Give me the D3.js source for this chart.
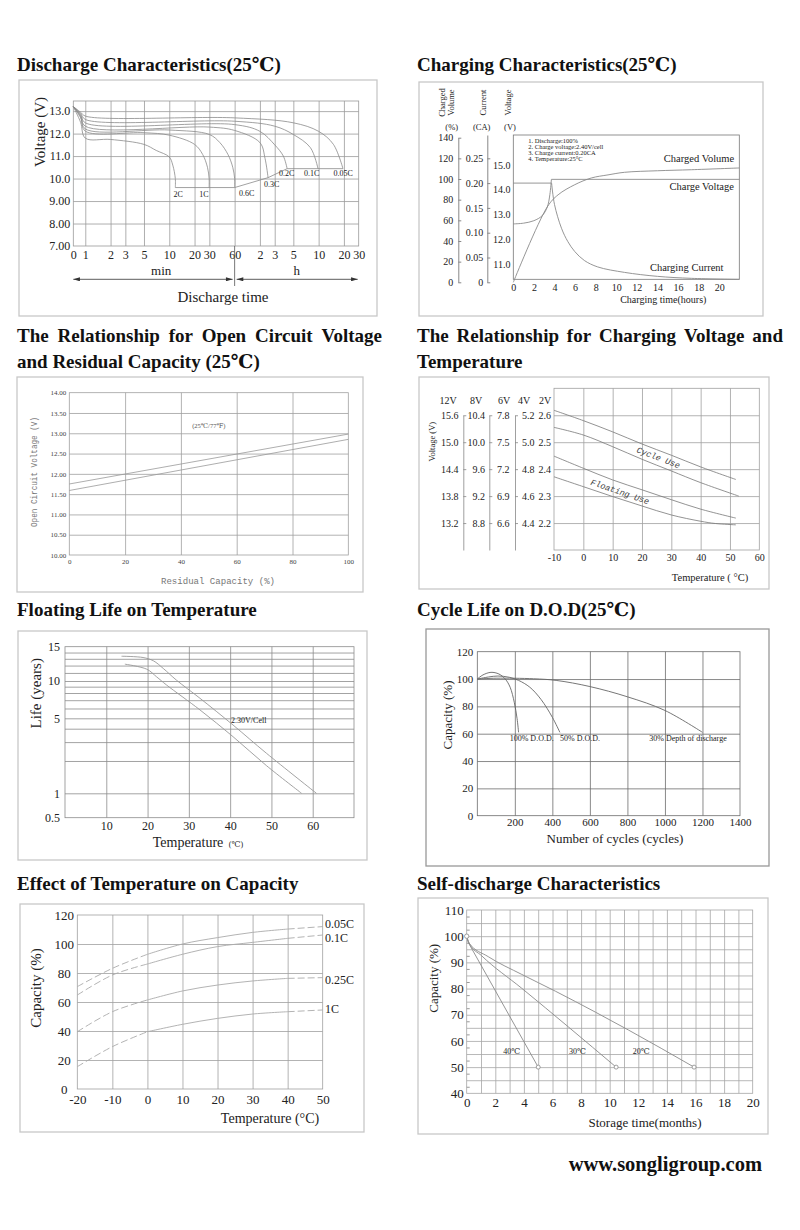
<!DOCTYPE html>
<html>
<head>
<meta charset="utf-8">
<script src="https://cdn.jsdelivr.net/npm/d3@7"></script>
<style>
body { margin: 0; background: #fff; }
</style>
</head>
<body>
<div id="canvas"></div>
<script>
"use strict"

/* ---------- data: discharge characteristics (minutes, volts) ---------- */
let dischargeRates = ["2C", "1C", "0.6C", "0.3C", "0.2C", "0.1C", "0.05C"];
let dischargeCurves = [
    [[0.72, 13.2], [0.88, 12.5], [1, 11.8], [2, 11.74], [5, 11.52], [7, 11.25], [10, 10.96], [11, 10.6], [11.8, 10.0], [11.8, 9.6]],
    [[0.72, 13.2], [0.88, 12.7], [1, 12.11], [5, 12.04], [10, 11.93], [20, 11.52], [25, 11.07], [28.5, 10.5], [29.8, 10.0], [29.8, 9.6]],
    [[0.72, 13.2], [0.88, 12.75], [1, 12.21], [10, 12.16], [30, 11.96], [40, 11.6], [50, 11.07], [57, 10.5], [60, 10.0], [60, 9.6]],
    [[0.72, 13.2], [0.88, 12.8], [1, 12.33], [30, 12.29], [60, 12.14], [120, 11.6], [138, 10.9], [150, 10.04]],
    [[0.72, 13.2], [0.88, 12.85], [1, 12.48], [60, 12.4], [120, 12.1], [180, 11.5], [228, 11.0], [253, 10.44]],
    [[0.72, 13.2], [0.88, 12.9], [1, 12.63], [60, 12.55], [180, 12.33], [300, 11.96], [480, 11.37], [590, 10.44]],
    [[0.72, 13.2], [0.88, 12.95], [1, 12.78], [60, 12.7], [300, 12.48], [600, 12.1], [900, 11.52], [1170, 10.44]]
];
let dischargeCutoff = [[11.8, 9.6], [60, 9.6], [150, 10.04], [253, 10.44], [1170, 10.44]];
let dischargeLabelAt = [[12.8, 9.32], [25.9, 9.32], [83.6, 9.35], [166, 9.76], [250, 10.24], [496, 10.24], [1180, 10.24]];
let dischargeTickMin = [0.72, 1, 2, 3, 5, 10, 20, 30, 60, 120, 180, 300, 600, 1200, 1800];
let dischargeTickText = ["0", "1", "2", "3", "5", "10", "20", "30", "60", "2", "3", "5", "10", "20", "30"];
let dischargeVoltTicks = [7, 8, 9, 10, 11, 12, 13];
let dischargeVoltText = ["7.00", "8.00", "9.00", "10.0", "11.0", "12.0", "13.0"];

/* ---------- data: charging characteristics (hours) ---------- */
let chargeHours = [0, 2, 4, 6, 8, 10, 12, 14, 16, 18, 20];
let chargePctTicks = [0, 20, 40, 60, 80, 100, 120, 140];
let chargeCATicks = [0, 0.05, 0.10, 0.15, 0.20, 0.25];
let chargeVTicks = [11, 12, 13, 14, 15];
let chargedVolume = [[0, 0], [3.3, 73], [4.35, 84.7], [5.97, 94.5], [7.58, 101], [9.2, 104], [10.8, 106.5], [14, 108], [17.3, 109], [21.95, 110.7]];
let chargeVoltage = [[0, 12.62], [1, 12.65], [2, 12.75], [2.8, 12.95], [3.3, 13.3], [3.55, 13.8], [3.7, 14.42], [21.95, 14.42]];
let chargeCurrent = [[0, 0.2], [3.72, 0.2], [4.0, 0.157], [4.68, 0.109], [5.3, 0.082], [5.97, 0.062], [6.9, 0.044], [8.2, 0.031], [10.8, 0.02], [14, 0.012], [17.3, 0.008], [21.95, 0.006]];
let chargeNotes = ["1. Discharge:100%", "2. Charge voltage:2.40V/cell", "3. Charge current:0.20CA", "4. Temperature:25°C"];

/* ---------- data: open circuit voltage vs residual capacity ---------- */
let ocvCapTicks = [0, 20, 40, 60, 80, 100];
let ocvVoltTicks = [10, 10.5, 11, 11.5, 12, 12.5, 13, 13.5, 14];
let ocvUpper = [[0, 11.75], [100, 12.98]];
let ocvLower = [[0, 11.59], [100, 12.85]];

/* ---------- data: charging voltage vs temperature (12V basis) ---------- */
let cvTempTicks = [-10, 0, 10, 20, 30, 40, 50, 60];
let cvNominal = [12, 8, 6, 4, 2];
let cvHeader = ["12V", "8V", "6V", "4V", "2V"];
let cvTicks = [
    [15.6, 15.0, 14.4, 13.8, 13.2],
    [10.4, 10.0, 9.6, 9.2, 8.8],
    [7.8, 7.5, 7.2, 6.9, 6.6],
    [5.2, 5.0, 4.8, 4.6, 4.4],
    [2.6, 2.5, 2.4, 2.3, 2.2]
];
let cycleUseHigh = [[-10, 15.71], [0, 15.48], [10, 15.23], [20, 14.96], [30, 14.71], [40, 14.45], [52, 14.17]];
let cycleUseLow = [[-10, 15.33], [0, 15.16], [10, 14.9], [20, 14.62], [30, 14.36], [40, 14.1], [53, 13.8]];
let floatUseHigh = [[-10, 14.69], [0, 14.42], [10, 14.16], [20, 13.94], [30, 13.72], [40, 13.51], [52, 13.31]];
let floatUseLow = [[-10, 14.23], [0, 14.01], [10, 13.79], [20, 13.58], [30, 13.38], [40, 13.24], [45, 13.19], [52, 13.16]];

/* ---------- data: floating life on temperature ---------- */
let lifeTempTicks = [10, 20, 30, 40, 50, 60];
let lifeYearTicks = [0.5, 1, 5, 10, 15];
let lifeGridYears = [1, 2, 3, 4, 5, 6, 7, 8, 9, 10, 11, 12, 13, 14];
let lifeUpper = [[13.7, 13.4], [18.9, 13.2], [21.4, 12.7], [23.8, 11.6], [27.0, 10.1], [32.7, 7.25], [40.7, 4.33], [48.8, 2.36], [60.9, 1]];
let lifeLower = [[14.5, 12.2], [19.8, 11.5], [22.2, 10.5], [24.6, 9.28], [32.7, 5.84], [40.7, 3.37], [48.8, 1.81], [57.3, 1]];

/* ---------- data: cycle life on D.O.D ---------- */
let cycleTicks = [0, 200, 400, 600, 800, 1000, 1200, 1400];
let cycleCapTicks = [0, 20, 40, 60, 80, 100, 120];
let dod100 = [[0, 100], [30, 103], [73, 104.9], [115, 103.7], [149, 100], [175, 94], [197, 83], [212, 71], [220, 61]];
let dod50 = [[0, 100], [60, 101.5], [110, 102.2], [170, 101.3], [220, 99], [280, 94], [340, 85], [400, 72], [440, 61]];
let dod30 = [[0, 100], [100, 100.6], [300, 100.2], [420, 99], [600, 94.5], [800, 87], [1000, 77], [1200, 61]];

/* ---------- data: effect of temperature on capacity ---------- */
let capRates = ["0.05C", "0.1C", "0.25C", "1C"];
let capTemps = [-20, -10, 0, 10, 20, 30, 40, 50];
let capValues = [
    [70.6, 83.2, 92.9, 100, 104.4, 108, 110.3, 112],
    [64.8, 78.6, 86.2, 92.9, 98.2, 101.1, 103.9, 106.2],
    [39.5, 53.3, 61.4, 67.6, 71.7, 74.5, 76.3, 76.8],
    [15.4, 29.2, 39.5, 44.6, 48.7, 51.7, 53.3, 54.5]
];
let capTicks = [0, 20, 40, 60, 80, 100, 120];

/* ---------- data: self-discharge ---------- */
let selfTemps = ["40℃", "30℃", "20℃"];
let selfCurves = [
    [[0, 100], [0.12, 97.5], [5, 50]],
    [[0, 100], [0.15, 97.5], [1.05, 92.5], [3.85, 80.1], [10.45, 50]],
    [[0, 100], [0.15, 97.5], [1.5, 92.2], [3.85, 85.4], [6.2, 79], [9, 71], [11.3, 64.2], [15.9, 50]]
];
let selfLabelAt = [[3.15, 56], [7.75, 56], [12.2, 56]];
let selfMonthTicks = [0, 2, 4, 6, 8, 10, 12, 14, 16, 18, 20];
let selfCapTicks = [40, 50, 60, 70, 80, 90, 100, 110];

/* ---------- drawing helpers ---------- */
const SERIF = '"Liberation Serif", "Times New Roman", "DejaVu Serif", serif';
const MONO = '"Liberation Mono", "DejaVu Sans Mono", monospace';
const TITLE_SIZE = 19;

let svg = d3.select("#canvas")
    .append("svg")
    .attr("width", 800)
    .attr("height", 1230);

svg.append("defs").append("marker")
    .attr("id", "arrow")
    .attr("viewBox", "0 0 10 6")
    .attr("refX", 10)
    .attr("refY", 3)
    .attr("markerWidth", 10)
    .attr("markerHeight", 4)
    .attr("markerUnits", "userSpaceOnUse")
    .attr("orient", "auto-start-reverse")
    .append("path")
    .attr("d", "M0,0 L10,3 L0,6 Z")
    .attr("fill", "#333");

function frame(x0, y0, x1, y1, stroke) {
    svg.append("rect")
        .attr("x", x0).attr("y", y0)
        .attr("width", x1 - x0).attr("height", y1 - y0)
        .attr("fill", "none")
        .attr("stroke", stroke || "#c8c8c8")
        .attr("stroke-width", 1.3);
}

function title(str, x, y) {
    return svg.append("text")
        .attr("x", x).attr("y", y)
        .attr("font-family", SERIF)
        .attr("font-weight", "bold")
        .attr("font-size", TITLE_SIZE)
        .attr("fill", "#111")
        .text(str);
}

/* spread the words of a title line over a fixed width */
function justifiedTitle(str, x, y, width) {
    let t = svg.append("text")
        .attr("y", y)
        .attr("font-family", SERIF)
        .attr("font-weight", "bold")
        .attr("font-size", TITLE_SIZE)
        .attr("fill", "#111");
    let words = str.split(" ");
    let spans = words.map(w => t.append("tspan").text(w));
    let widths = spans.map(s => s.node().getComputedTextLength());
    let gap = (width - d3.sum(widths)) / (words.length - 1);
    let cx = x;
    spans.forEach((s, i) => {
        s.attr("x", cx);
        cx += widths[i] + gap;
    });
}

function grid(x, y, xVals, yVals, color, sw) {
    let xr = x.range(), yr = y.range();
    let xl = xr[0], xh = xr[xr.length - 1], yb = yr[0], yt = yr[yr.length - 1];
    svg.append("g")
        .attr("transform", `translate(0,${yb})`)
        .call(d3.axisBottom(x).tickValues(xVals).tickSize(-(yb - yt)).tickFormat(""))
        .call(a => a.select(".domain").remove())
        .selectAll("line").attr("stroke", color).attr("stroke-width", sw);
    svg.append("g")
        .attr("transform", `translate(${xl},0)`)
        .call(d3.axisLeft(y).tickValues(yVals).tickSize(-(xh - xl)).tickFormat(""))
        .call(a => a.select(".domain").remove())
        .selectAll("line").attr("stroke", color).attr("stroke-width", sw);
    svg.append("rect")
        .attr("x", xl).attr("y", yt)
        .attr("width", xh - xl).attr("height", yb - yt)
        .attr("fill", "none")
        .attr("stroke", color)
        .attr("stroke-width", sw);
}

function styleLabels(g, size, family, color) {
    g.attr("font-size", size)
        .attr("font-family", family || SERIF)
        .call(a => a.select(".domain").remove())
        .selectAll("text").attr("fill", color || "#222");
    return g;
}

function bottomLabels(x, yPos, vals, fmt, size, pad, family, color) {
    return styleLabels(svg.append("g")
        .attr("transform", `translate(0,${yPos})`)
        .call(d3.axisBottom(x).tickValues(vals).tickSize(0).tickPadding(pad).tickFormat(fmt)), size, family, color);
}

function leftLabels(y, xPos, vals, fmt, size, pad, family, color) {
    return styleLabels(svg.append("g")
        .attr("transform", `translate(${xPos},0)`)
        .call(d3.axisLeft(y).tickValues(vals).tickSize(0).tickPadding(pad).tickFormat(fmt)), size, family, color);
}

function label(str, x, y, size, opts) {
    opts = opts || {};
    let t = svg.append("text")
        .attr("x", x).attr("y", y)
        .attr("font-family", opts.family || SERIF)
        .attr("font-size", size)
        .attr("fill", opts.color || "#222")
        .attr("text-anchor", opts.anchor || "middle")
        .text(str);
    if (opts.rotate !== undefined) {
        t.attr("transform", `rotate(${opts.rotate},${x},${y})`);
    }
    if (opts.style) t.attr("font-style", opts.style);
    if (opts.dy) t.attr("dy", opts.dy);
    return t;
}

function curve(data, x, y, color, sw, factory, dash) {
    let line = d3.line()
        .x(d => x(d[0]))
        .y(d => y(d[1]))
        .curve(factory || d3.curveCatmullRom.alpha(0.5));
    let p = svg.append("path")
        .attr("d", line(data))
        .attr("fill", "none")
        .attr("stroke", color)
        .attr("stroke-width", sw);
    if (dash) p.attr("stroke-dasharray", dash);
    return p;
}

let plain = d => String(d);

/* ================= 1. Discharge characteristics ================= */
title("Discharge Characteristics(25℃)", 17, 71);
frame(19, 80, 377, 316);

let p1x = d3.scaleLog().domain([0.72, 1800]).range([73.3, 358.7]);
let p1y = d3.scaleLinear().domain([7, 13.45]).range([246, 101]);

grid(p1x, p1y, dischargeTickMin.slice(1, -1), dischargeVoltTicks.slice(1), "#9a9a9a", 0.8);
bottomLabels(p1x, 246, dischargeTickMin, (d, i) => dischargeTickText[i], 12, 4);
leftLabels(p1y, 73.3, dischargeVoltTicks, (d, i) => dischargeVoltText[i], 12, 3);

dischargeCurves.forEach(c => curve(c, p1x, p1y, "#8a8a8a", 0.8));
curve(dischargeCutoff, p1x, p1y, "#8a8a8a", 0.8, d3.curveLinear);
dischargeRates.forEach((r, i) => {
    label(r, p1x(dischargeLabelAt[i][0]), p1y(dischargeLabelAt[i][1]), 8, { dy: "0.35em" });
});

label("Voltage (V)", 40, 132, 15, { rotate: -90, dy: "0.35em" });

/* time unit row with arrows */
let arrowY = 279.3;
svg.append("line")
    .attr("x1", p1x(0.72)).attr("x2", p1x(60) - 2)
    .attr("y1", arrowY).attr("y2", arrowY)
    .attr("stroke", "#333").attr("stroke-width", 0.8)
    .attr("marker-start", "url(#arrow)").attr("marker-end", "url(#arrow)");
svg.append("line")
    .attr("x1", p1x(60) + 2).attr("x2", p1x(1800) - 1)
    .attr("y1", arrowY).attr("y2", arrowY)
    .attr("stroke", "#333").attr("stroke-width", 0.8)
    .attr("marker-start", "url(#arrow)").attr("marker-end", "url(#arrow)");
svg.append("line")
    .attr("x1", p1x(60)).attr("x2", p1x(60))
    .attr("y1", 246).attr("y2", 286)
    .attr("stroke", "#555").attr("stroke-width", 0.8);
label("min", p1x(8), 275, 13);
label("h", p1x(330), 275, 13);
label("Discharge time", 223, 302, 15);

/* ================= 2. Charging characteristics ================= */
title("Charging Characteristics(25℃)", 417, 71);
frame(419, 82, 763, 316);

let p2x = d3.scaleLinear().domain([0, 21.95]).range([513.3, 739.3]);
let p2pct = d3.scaleLinear().domain([0, 140]).range([282.3, 137.7]);
let p2ca = d3.scaleLinear().domain([0, 0.297]).range([282.3, 135]);
let p2v = d3.scaleLinear().domain([11, 15]).range([264, 165]);

svg.append("rect")
    .attr("x", 513.3).attr("y", 135)
    .attr("width", 739.3 - 513.3).attr("height", 279.3 - 135)
    .attr("fill", "none").attr("stroke", "#777").attr("stroke-width", 0.8);

let pctAxis = svg.append("g")
    .attr("transform", "translate(458.3,0)")
    .call(d3.axisLeft(p2pct).tickValues(chargePctTicks).tickSizeInner(-3).tickSizeOuter(0).tickPadding(5));
let caAxis = svg.append("g")
    .attr("transform", "translate(487.3,0)")
    .call(d3.axisLeft(p2ca).tickValues(chargeCATicks).tickSizeInner(-3).tickSizeOuter(0).tickPadding(4)
        .tickFormat(d => d === 0 ? "0" : d3.format(".2f")(d)));
[pctAxis, caAxis].forEach(a => {
    a.attr("font-size", 10).attr("font-family", SERIF);
    a.selectAll("path, line").attr("stroke", "#888");
    a.selectAll("text").attr("fill", "#222");
});
leftLabels(p2v, 510.5, chargeVTicks, d3.format(".1f"), 10, 0);
bottomLabels(p2x, 282.3, chargeHours, d3.format("d"), 10, 2);

curve(chargedVolume, p2x, p2pct, "#8a8a8a", 0.9);
curve(chargeVoltage.slice(0, 7), p2x, p2v, "#8a8a8a", 0.9);
curve(chargeVoltage.slice(6), p2x, p2v, "#8a8a8a", 0.9, d3.curveLinear);
curve(chargeCurrent.slice(0, 2), p2x, p2ca, "#8a8a8a", 0.9, d3.curveLinear);
curve(chargeCurrent.slice(1), p2x, p2ca, "#8a8a8a", 0.9);

chargeNotes.forEach((n, i) => {
    label(n, 528.3, 142.5 + i * 6.3, 6.5, { anchor: "start" });
});
label("Charged Volume", 699, 161.5, 10.5);
label("Charge Voltage", 701.7, 190, 10.5);
label("Charging Current", 686.7, 271, 10.5);

[["Charged", 441.7], ["Volume", 450.7], ["Current", 483], ["Voltage", 508]].forEach(d => {
    label(d[0], d[1], 102.5, 8.5, { rotate: -90, dy: "0.35em" });
});
label("(%)", 451.7, 130, 8.5);
label("(CA)", 481.7, 130, 8.5);
label("(V)", 510, 130, 8.5);
label("Charging time(hours)", 663.3, 303, 10);

/* ================= 3. Open circuit voltage ================= */
justifiedTitle("The Relationship for Open Circuit Voltage", 17, 342, 365);
title("and Residual Capacity (25℃)", 17, 368);
frame(17, 377, 363, 592);

let p3x = d3.scaleLinear().domain([0, 100]).range([69.3, 348.3]);
let p3y = d3.scaleLinear().domain([10, 14]).range([555, 392.7]);
grid(p3x, p3y, ocvCapTicks.slice(1, -1), ocvVoltTicks.slice(1, -1), "#a0a0a0", 0.8);
leftLabels(p3y, 69.3, ocvVoltTicks, d3.format(".2f"), 7, 3, SERIF, "#444");
bottomLabels(p3x, 555, ocvCapTicks, d3.format("d"), 7, 4, SERIF, "#444");
curve(ocvUpper, p3x, p3y, "#999", 0.8, d3.curveLinear);
curve(ocvLower, p3x, p3y, "#999", 0.8, d3.curveLinear);
label("(25℃/77℉)", p3x(50), 427.5, 6.5, { color: "#555" });
label("Open Circuit Voltage (V)", 34, 472, 9, { rotate: -90, dy: "0.35em", family: MONO, color: "#777" })
    .attr("textLength", 110).attr("lengthAdjust", "spacingAndGlyphs");
label("Residual Capacity (%)", 218, 584, 9, { family: MONO, color: "#777" })
    .attr("textLength", 114).attr("lengthAdjust", "spacingAndGlyphs");

/* ================= 4. Charging voltage vs temperature ================= */
justifiedTitle("The Relationship for Charging Voltage and", 417, 342, 366);
title("Temperature", 417, 368);
frame(419, 377, 769, 589);

let p4x = d3.scaleLinear().domain([-10, 60]).range([554, 759.3]);
let p4y = d3.scaleLinear().domain([12.6, 16.2]).range([550, 388.3]);
grid(p4x, p4y, cvTempTicks.slice(1, -1), cvTicks[0], "#a0a0a0", 0.8);
bottomLabels(p4x, 550, cvTempTicks, plain, 10, 4);

let cvLabelEnd = [458.5, 485, 509.5, 534.5, 551];
let cvHeaderX = [448, 476, 504, 524, 545];
cvNominal.forEach((nom, i) => {
    let colScale = d3.scaleLinear()
        .domain(p4y.domain().map(v => v * nom / 12))
        .range(p4y.range());
    leftLabels(colScale, cvLabelEnd[i], cvTicks[i], d3.format(".1f"), 10, 0);
    label(cvHeader[i], cvHeaderX[i], 403.5, 10);
});
[463.3, 489.3, 515].forEach(xp => {
    let lineScale = d3.scaleLinear().domain([12.6, 15.6]).range([p4y(12.6), p4y(15.6)]);
    svg.append("g")
        .attr("transform", `translate(${xp},0)`)
        .call(d3.axisLeft(lineScale).tickValues(cvTicks[0]).tickSizeInner(-3).tickSizeOuter(0).tickFormat(""))
        .selectAll("path, line").attr("stroke", "#888").attr("stroke-width", 0.8);
});

[cycleUseHigh, cycleUseLow, floatUseHigh, floatUseLow].forEach(c => curve(c, p4x, p4y, "#777", 0.8));
label("Cycle Use", p4x(25.6), p4y(14.66), 8.5, { rotate: 21, family: MONO, style: "italic", color: "#444", dy: "0.35em" });
label("Floating Use", p4x(12.5), p4y(13.9), 8.5, { rotate: 19, family: MONO, style: "italic", color: "#444", dy: "0.35em" });
label("Voltage (V)", 431.7, 441.7, 8.5, { rotate: -90, dy: "0.35em" });
label("Temperature ( °C)", 710, 581, 10.5);

/* ================= 5. Floating life ================= */
title("Floating Life on Temperature", 17, 616);
frame(18, 631, 367, 860);

let p5x = d3.scaleLinear().domain([0, 70]).range([65, 354]);
let p5y = d3.scaleLog().domain([0.5, 1, 5, 10, 15]).range([817.7, 793.3, 718.3, 681, 646.7]);
grid(p5x, p5y, lifeTempTicks, lifeGridYears, "#8c8c8c", 0.8);
bottomLabels(p5x, 817.7, lifeTempTicks, d3.format("d"), 12, 4);
leftLabels(p5y, 63, lifeYearTicks, plain, 12, 3);
curve(lifeUpper, p5x, p5y, "#999", 0.9);
curve(lifeLower, p5x, p5y, "#999", 0.9);
label("2.30V/Cell", p5x(44.5), p5y(4.75), 8, { dy: "0.35em" });
label("Life (years)", 36, 693.3, 15, { rotate: -90, dy: "0.35em" });
label("Temperature", 188, 847, 14);
label("(℃)", 236, 847, 8);

/* ================= 6. Cycle life ================= */
title("Cycle Life on D.O.D(25℃)", 417, 616);
frame(426, 629, 769, 866, "#999");

let p6x = d3.scaleLinear().domain([0, 1400]).range([477.3, 740]);
let p6y = d3.scaleLinear().domain([0, 120]).range([815.7, 651.7]);
grid(p6x, p6y, cycleTicks.slice(1, -1), cycleCapTicks.slice(1, -1), "#6c6c6c", 0.8);
bottomLabels(p6x, 815.7, cycleTicks.slice(1), d3.format("d"), 11, 3);
leftLabels(p6y, 477.3, cycleCapTicks, d3.format("d"), 11, 4);
curve(dod100, p6x, p6y, "#666", 0.9);
curve(dod50, p6x, p6y, "#666", 0.9);
curve(dod30, p6x, p6y, "#666", 0.9);
label("100% D.O.D.", 531.7, 741, 8);
label("50% D.O.D.", 580, 741, 8);
label("30% Depth of  discharge", 688, 741, 8);
label("Capacity  (%)", 447, 715, 13, { rotate: -90, dy: "0.35em" });
label("Number of cycles (cycles)", 615, 843, 13);

/* ================= 7. Temperature on capacity ================= */
title("Effect of Temperature on Capacity", 17, 890);
frame(20, 904, 364, 1132);

let p7x = d3.scaleLinear().domain([-20, 50]).range([77.3, 322.7]);
let p7y = d3.scaleLinear().domain([0, 120]).range([1089, 915]);
grid(p7x, p7y, capTemps.slice(1, -1), capTicks.slice(1, -1), "#a0a0a0", 0.8);
bottomLabels(p7x, 1089, capTemps, plain, 13, 6);
leftLabels(p7y, 77.3, capTicks, d3.format("d"), 13, 5)
    .selectAll("text").attr("text-anchor", "middle").attr("x", -13);

let capLabelY = [924, 938, 980, 1009];
capValues.forEach((vals, i) => {
    let pts = capTemps.map((t, j) => [t, vals[j]]);
    curve(pts.filter(d => d[0] <= 0), p7x, p7y, "#aaa", 0.9, null, "7,3");
    curve(pts.filter(d => d[0] >= 0 && d[0] <= 40), p7x, p7y, "#aaa", 0.9);
    curve(pts.filter(d => d[0] >= 40), p7x, p7y, "#aaa", 0.9, null, "7,3");
    label(capRates[i], 325, capLabelY[i], 12, { anchor: "start", dy: "0.35em" });
});
label("Capacity  (%)", 36, 988, 15, { rotate: -90, dy: "0.35em" });
label("Temperature  (°C)", 270, 1123, 14);

/* ================= 8. Self-discharge ================= */
title("Self-discharge Characteristics", 417, 890);
frame(418, 898, 768, 1134);

let p8x = d3.scaleLinear().domain([0, 20]).range([466.7, 752.7]);
let p8y = d3.scaleLinear().domain([40, 110]).range([1093.3, 910]);
grid(p8x, p8y, d3.range(1, 20), d3.range(45, 110, 5), "#a6a6a6", 0.8);
svg.append("g")
    .attr("transform", "translate(466.7,0)")
    .call(d3.axisLeft(p8y).tickValues(d3.range(42.5, 110, 5)).tickSizeInner(-3).tickSizeOuter(0).tickFormat(""))
    .call(a => a.select(".domain").remove())
    .selectAll("line").attr("stroke", "#999");
bottomLabels(p8x, 1093.3, selfMonthTicks, d3.format("d"), 13, 4);
leftLabels(p8y, 466.7, selfCapTicks, d3.format("d"), 13, 3);

selfCurves.forEach((c, i) => {
    curve(c, p8x, p8y, "#8a8a8a", 0.9, c.length > 3 ? d3.curveMonotoneX : d3.curveLinear);
    let last = c[c.length - 1];
    svg.append("circle")
        .attr("cx", p8x(last[0])).attr("cy", p8y(last[1])).attr("r", 2)
        .attr("fill", "#fff").attr("stroke", "#888").attr("stroke-width", 0.8);
    label(selfTemps[i], p8x(selfLabelAt[i][0]), p8y(selfLabelAt[i][1]), 8, { dy: "0.35em" });
});
svg.append("circle")
    .attr("cx", p8x(0)).attr("cy", p8y(100)).attr("r", 2.2)
    .attr("fill", "#fff").attr("stroke", "#888").attr("stroke-width", 0.8);
label("Capacity (%)", 433.3, 978.3, 13, { rotate: -90, dy: "0.35em" });
label("Storage time(months)", 645, 1126.5, 13);

/* ---------- footer ---------- */
svg.append("text")
    .attr("x", 762).attr("y", 1171)
    .attr("text-anchor", "end")
    .attr("font-family", SERIF)
    .attr("font-weight", "bold")
    .attr("font-size", 20.5)
    .attr("fill", "#111")
    .text("www.songligroup.com");
</script>
</body>
</html>
